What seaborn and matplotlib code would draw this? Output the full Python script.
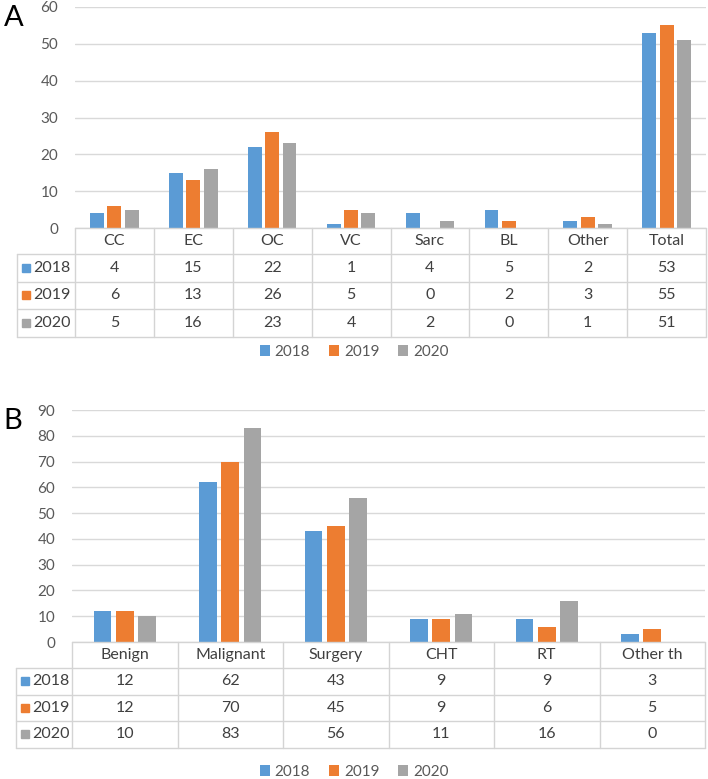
import numpy as np
import pandas as pd
import matplotlib.pyplot as plt
import matplotlib.transforms as mtransforms
import seaborn as sns

# Panel A data
cats_a = ['CC', 'EC', 'OC', 'VC', 'Sarc', 'BL', 'Other', 'Total']
a_2018 = [4, 15, 22, 1, 4, 5, 2, 53]
a_2019 = [6, 13, 26, 5, 0, 2, 3, 55]
a_2020 = [5, 16, 23, 4, 2, 0, 1, 51]

# Panel B data
cats_b = ['Benign', 'Malignant', 'Surgery', 'CHT', 'RT', 'Other th']
b_2018 = [12, 62, 43, 9, 9, 3]
b_2019 = [12, 70, 45, 9, 6, 5]
b_2020 = [10, 83, 56, 11, 16, 0]

years = ['2018', '2019', '2020']
colors = ['#5B9BD5', '#ED7D31', '#A5A5A5']

sns.set_theme(style='white')
plt.rcParams['font.family'] = ['Lato', 'DejaVu Sans']
txt_col = '#595959'
line_col = '#D4D4D4'

W, H = 708, 779
fig = plt.figure(figsize=(W / 100, H / 100), dpi=100)


def draw_panel(box, cats, series, ymax, label, tbl_left, row_hs, legend_y, width):
    l, t, r, b = box
    ax = fig.add_axes([l / W, 1 - b / H, (r - l) / W, (b - t) / H])
    df = pd.DataFrame({
        'cat': cats * 3,
        'year': np.repeat(years, len(cats)),
        'val': np.concatenate(series),
    })
    sns.barplot(data=df, x='cat', y='val', hue='year', order=cats,
                hue_order=years, palette=colors, saturation=1,
                width=width, gap=0.2, linewidth=0, ax=ax)
    handles, labels = ax.get_legend_handles_labels()
    ax.get_legend().remove()
    ax.set_xlim(-0.5, len(cats) - 0.5)
    ax.set_ylim(0, ymax)
    ax.set_yticks(range(0, ymax + 1, 10))
    ax.yaxis.grid(True, color='#D9D9D9', lw=1)
    ax.set_axisbelow(True)
    for s in ax.spines.values():
        s.set_visible(False)
    ax.set_xlabel('')
    ax.set_ylabel('')
    ax.set_xticks([])
    ax.tick_params(axis='y', length=0, pad=12, labelsize=11, labelcolor=txt_col)

    # table below the axes
    ph = b - t
    fx = lambda px: (px - l) / (r - l)
    edges = [0]
    for h in row_hs:
        edges.append(edges[-1] - h / ph)
    bl = mtransforms.blended_transform_factory(ax.transData, ax.transAxes)
    kw = dict(color=line_col, lw=1, clip_on=False)
    ax.plot([0, 1], [edges[0]] * 2, transform=ax.transAxes, **kw)
    for e in edges[1:]:
        ax.plot([fx(tbl_left), 1], [e] * 2, transform=ax.transAxes, **kw)
    for xb in np.arange(-0.5, len(cats), 1.0):
        ax.plot([xb, xb], [edges[0], edges[-1]], transform=bl, **kw)
    ax.plot([fx(tbl_left)] * 2, [edges[1], edges[-1]], transform=ax.transAxes, **kw)
    tcol = '#404040'
    for i, c in enumerate(cats):
        ax.text(i, (edges[0] + edges[1]) / 2, c, transform=bl, ha='center',
                va='center', fontsize=11.5, color=tcol)
    for k, yr in enumerate(years):
        yc = (edges[k + 1] + edges[k + 2]) / 2
        ax.plot([fx(tbl_left + 9)], [yc], marker='s', ms=6, color=colors[k],
                transform=ax.transAxes, clip_on=False)
        ax.text(fx(tbl_left + 16), yc, yr, transform=ax.transAxes, ha='left',
                va='center', fontsize=11.5, color=tcol)
        for i, v in enumerate(series[k]):
            ax.text(i, yc, str(v), transform=bl, ha='center', va='center',
                    fontsize=11.5, color=tcol)

    fig.text(0.005, 1 - (t + 11) / H, label, fontsize=21, color='black',
             ha='left', va='center')
    fig.legend(handles, labels, loc='center', bbox_to_anchor=(0.5, 1 - legend_y / H),
               ncol=3, frameon=False, fontsize=11, handlelength=0.7,
               handleheight=0.7, handletextpad=0.3, columnspacing=1.2,
               labelcolor=txt_col)
    return ax


draw_panel((75, 7, 706, 228), cats_a, [a_2018, a_2019, a_2020], 60, 'A',
           17, [26, 27.5, 27.5, 27.5], 352, 0.66)
draw_panel((72, 410, 705, 642), cats_b, [b_2018, b_2019, b_2020], 90, 'B',
           16, [26, 26.5, 26.5, 26.5], 772, 0.63)

plt.savefig('out.png', dpi=100)
